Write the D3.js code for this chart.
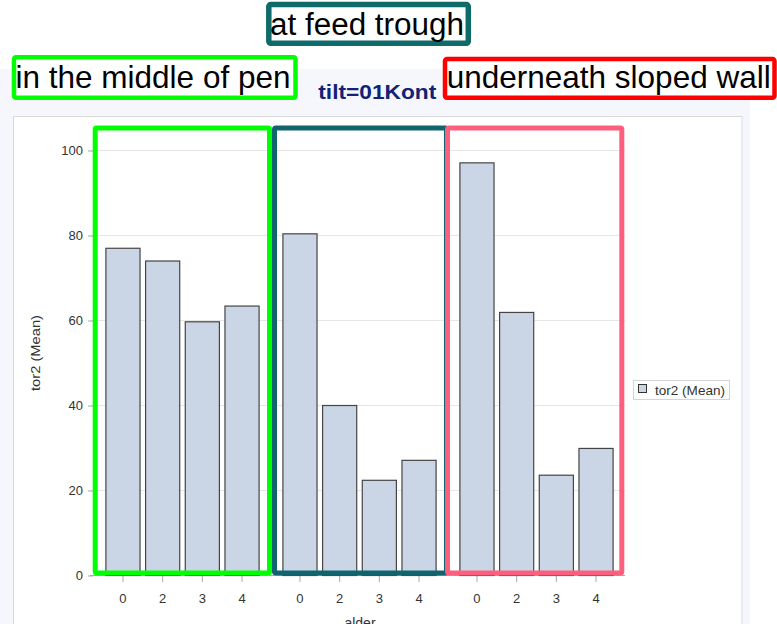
<!DOCTYPE html>
<html>
<head>
<meta charset="utf-8">
<script src="https://cdn.jsdelivr.net/npm/d3@7"></script>
<style>
  body { margin: 0; background: #fff; }
  text { font-family: "Liberation Sans", Arial, sans-serif; }
</style>
</head>
<body>
<div id="d3-container"></div>
<script>

// data
const places = ["in the middle of pen", "at feed trough", "underneath sloped wall"];
const alder = ["0", "2", "3", "4"];
const midtValues = [77.0, 74.0, 59.7, 63.4];
const foderValues = [80.4, 40.0, 22.4, 27.1];
const vaegValues = [97.1, 61.9, 23.6, 29.9];
const yTicks = [0, 20, 40, 60, 80, 100];

const data = [];
[midtValues, foderValues, vaegValues].forEach((vals, i) => {
    vals.forEach((v, j) => data.push({ place: places[i], alder: alder[j], value: v }));
});

const W = 777, H = 624;
const plot = { left: 94, right: 625, top: 128, bottom: 575.5 };

const svg = d3.select("#d3-container")
    .append("svg")
    .attr("width", W)
    .attr("height", H);

// page + panel background
svg.append("rect").attr("x", 0).attr("y", 69).attr("width", 750).attr("height", H - 69)
    .attr("fill", "#f5f7fc");
svg.append("rect").attr("x", 13.5).attr("y", 116.5).attr("width", 728.5).attr("height", 520)
    .attr("fill", "#fff").attr("stroke", "#d9d9d9");

const xOuter = d3.scaleBand()
    .domain(places)
    .range([plot.left, plot.right])
    .padding(0);

const xInner = d3.scaleBand()
    .domain(alder)
    .range([0, xOuter.bandwidth()])
    .paddingInner(0.14)
    .paddingOuter(0.3);

const yScale = d3.scaleLinear()
    .domain([0, 105.3])
    .range([plot.bottom, plot.top]);

// grid
svg.append("g")
    .selectAll("line")
    .data(yTicks.filter(d => d > 0))
    .enter()
    .append("line")
    .attr("x1", 91).attr("x2", plot.right)
    .attr("y1", d => yScale(d)).attr("y2", d => yScale(d))
    .attr("stroke", "#e6e6e6");

// y axis
const yAxis = svg.append("g")
    .attr("transform", "translate(93,0)")
    .call(d3.axisLeft(yScale).tickValues(yTicks).tickSize(5).tickPadding(5));
yAxis.select(".domain").remove();
yAxis.selectAll(".tick line").attr("stroke", "#a8a8a8");
yAxis.selectAll(".tick text").attr("font-size", 13).attr("fill", "#333")
    .attr("font-family", "Liberation Sans, Arial, sans-serif");

// x axis, one per group
places.forEach(p => {
    const g = svg.append("g")
        .attr("transform", "translate(" + xOuter(p) + "," + plot.bottom + ")")
        .call(d3.axisBottom(xInner).tickSize(6.5).tickPadding(11.3));
    g.select(".domain").remove();
    g.selectAll(".tick line").attr("stroke", "#a8a8a8");
    g.selectAll(".tick text").attr("font-size", 13).attr("fill", "#333")
        .attr("font-family", "Liberation Sans, Arial, sans-serif");
});
svg.append("line")
    .attr("x1", 90).attr("x2", plot.right)
    .attr("y1", plot.bottom).attr("y2", plot.bottom)
    .attr("stroke", "#a8a8a8");

// bars
svg.append("g")
    .selectAll("rect")
    .data(data)
    .enter()
    .append("rect")
    .attr("x", d => xOuter(d.place) + xInner(d.alder))
    .attr("y", d => yScale(d.value))
    .attr("width", xInner.bandwidth())
    .attr("height", d => yScale(0) - yScale(d.value))
    .attr("fill", "#cad5e5")
    .attr("stroke", "#454545")
    .attr("stroke-width", 1.2);

// axis labels
svg.append("text")
    .attr("transform", "translate(40,353) rotate(-90)")
    .attr("text-anchor", "middle")
    .attr("font-size", 13)
    .attr("textLength", 76).attr("lengthAdjust", "spacingAndGlyphs")
    .attr("fill", "#333")
    .text("tor2 (Mean)");

// only the top of this shows, as in the original
svg.append("text")
    .attr("x", 360).attr("y", 628)
    .attr("text-anchor", "middle")
    .attr("font-size", 14)
    .attr("fill", "#333")
    .text("alder");

// legend
svg.append("rect").attr("x", 633.5).attr("y", 380.5).attr("width", 96).attr("height", 19)
    .attr("fill", "#fff").attr("stroke", "#d4d4d4");
svg.append("rect").attr("x", 638.5).attr("y", 384.5).attr("width", 8).attr("height", 8)
    .attr("fill", "#cad5e5").attr("stroke", "#333");
svg.append("text").attr("x", 655).attr("y", 395)
    .attr("font-size", 13).attr("textLength", 70).attr("lengthAdjust", "spacingAndGlyphs")
    .attr("fill", "#333")
    .text("tor2 (Mean)");

// highlight boxes around each group (hand drawn, so edges are a bit off the bands)
const boxColors = ["#00ff00", "#106470", "#ff5f7c"];
const boxNudge = [[-1.3, 1], [1, 1], [-3, -0.7]];
svg.append("g")
    .selectAll("rect")
    .data(places)
    .enter()
    .append("rect")
    .attr("x", (d, i) => xOuter(d) + boxNudge[i][0] + 2.5)
    .attr("y", plot.top)
    .attr("width", (d, i) => xOuter.bandwidth() - boxNudge[i][0] + boxNudge[i][1] - 5)
    .attr("height", plot.bottom - 2.5 - plot.top)
    .attr("rx", 1.5)
    .attr("fill", "none")
    .attr("stroke", (d, i) => boxColors[i])
    .attr("stroke-width", 5);

// title
svg.append("text")
    .attr("x", 318.3).attr("y", 99)
    .attr("font-size", 21).attr("font-weight", "bold")
    .attr("textLength", 118).attr("lengthAdjust", "spacingAndGlyphs")
    .attr("fill", "#112277")
    .text("tilt=01Kont");

// labelled callouts
const callouts = [
    { text: places[0], x: 14, y: 57.3, w: 281.5, h: 40.5, sw: 4.5, color: "#00ff00", tx: 15.5, ty: 87.5, fs: 32, tl: 275 },
    { text: places[1], x: 268.8, y: 4.5, w: 199.5, h: 38.8, sw: 5.5, color: "#0f6a6a", tx: 270, ty: 35, fs: 31, tl: 194 },
    { text: places[2], x: 445, y: 59, w: 329.5, h: 38.7, sw: 4.5, color: "#ff0000", tx: 446.7, ty: 88.3, fs: 31.5, tl: 324 }
];
callouts.forEach(c => {
    svg.append("rect")
        .attr("x", c.x).attr("y", c.y).attr("width", c.w).attr("height", c.h)
        .attr("rx", 2)
        .attr("fill", "#fff").attr("stroke", c.color).attr("stroke-width", c.sw);
    svg.append("text")
        .attr("x", c.tx).attr("y", c.ty)
        .attr("font-size", c.fs)
        .attr("textLength", c.tl).attr("lengthAdjust", "spacingAndGlyphs")
        .attr("fill", "#000")
        .text(c.text);
});

</script>
</body>
</html>
